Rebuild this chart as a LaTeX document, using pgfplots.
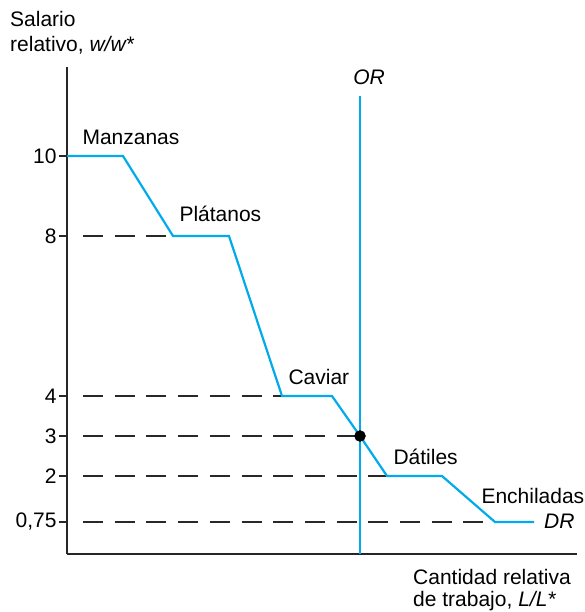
\documentclass[border=0pt]{standalone}
\usepackage{fontspec}
\setmainfont{Liberation Sans}
\usepackage{pgfplots}
\pgfplotsset{compat=1.18}
\definecolor{curvecol}{RGB}{0,170,235}
\definecolor{dashcol}{RGB}{40,40,40}
\begin{document}
\begin{tikzpicture}[font=\fontsize{21bp}{25bp}\selectfont]
\useasboundingbox (-67bp,-58bp) rectangle (518bp,554bp);
\begin{axis}[at={(0,0)}, anchor=south west, scale only axis,
  width=510bp, height=487bp,
  xmin=0, xmax=510, ymin=0.05, ymax=12.225,
  axis x line*=bottom, axis y line*=left,
  axis line style={-, line width=2.4bp, color=black!85},
  xtick=\empty,
  ytick={0.85,2,3,4,8,10},
  yticklabels={{0,75},2,3,4,8,10},
  tick align=outside, major tick length=8bp,
  tick style={line width=1.3bp, color=black!85},
  yticklabel style={font=\fontsize{21bp}{25bp}\selectfont, xshift=1bp},
  /pgf/number format/assume math mode=true,
  clip=false]
% dashed guide lines
\addplot[dashcol, line width=1.4bp, dash pattern=on 20bp off 11.7bp] coordinates {(16,8) (106,8)};
\addplot[dashcol, line width=1.4bp, dash pattern=on 20bp off 11.7bp] coordinates {(16,4) (215,4)};
\addplot[dashcol, line width=1.4bp, dash pattern=on 20bp off 11.7bp] coordinates {(16,3) (293,3)};
\addplot[dashcol, line width=1.4bp, dash pattern=on 20bp off 11.7bp] coordinates {(16,2) (320,2)};
\addplot[dashcol, line width=1.4bp, dash pattern=on 20bp off 11.7bp] coordinates {(16,0.85) (428,0.85)};
% OR
\addplot[curvecol, line width=2.2bp] coordinates {(293,0.05) (293,11.49)};
% DR
\addplot[curvecol, line width=2.2bp] coordinates {
(0,10) (56,10) (106,8) (162,8) (215,4) (265,4) (293,3) (320,2) (375,2) (428,0.85) (467,0.85)};
% equilibrium
\addplot[only marks, mark=*, mark size=5.5bp, black] coordinates {(293,3)};
\node[anchor=base west] at (axis cs:12,10.29) {Manzanas};
\node[anchor=base west] at (axis cs:109,8.35) {Plátanos};
\node[anchor=base west] at (axis cs:218,4.29) {Caviar};
\node[anchor=base west] at (axis cs:323,2.29) {Dátiles};
\node[anchor=base west] at (axis cs:411,1.325) {Enchiladas};
\node[anchor=base east] at (axis cs:511,0.7) {\itshape DR};
\node[anchor=base] at (axis cs:302,11.79) {\itshape OR};
\end{axis}
\node[anchor=base west, inner sep=0] at (-57bp,527bp) {Salario};
\node[anchor=base west, inner sep=0] at (-57bp,502bp) {relativo, \itshape w/w*};
\node[anchor=base west, inner sep=0] at (346bp,-30bp) {Cantidad relativa};
\node[anchor=base west, inner sep=0] at (346bp,-52.7bp) {de trabajo, \itshape L/L*};
\end{tikzpicture}
\end{document}
